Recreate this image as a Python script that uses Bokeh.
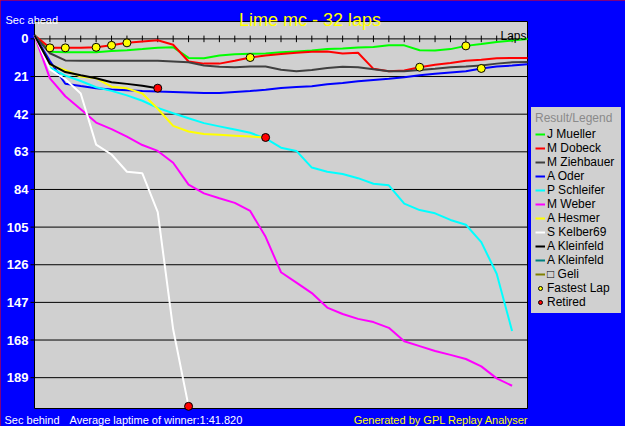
from bokeh.plotting import figure
from bokeh.models import Range1d, Label, Legend, LegendItem
from bokeh.core.properties import value
from bokeh.embed import file_html
from bokeh.resources import INLINE

# ---------------- data ----------------
TITLE = "Lime  mc - 32 laps"
laps = list(range(33))
y_ticks = [0, 21, 42, 63, 84, 105, 126, 147, 168, 189]
y_tick_labels = ["0", "21", "42", "63", "84", "105", "126", "147", "168", "189"]

names = ["J Mueller", "M Dobeck", "M Ziehbauer", "A Oder", "P Schleifer", "M Weber",
         "A Hesmer", "S Kelber69", "A Kleinfeld", "A Kleinfeld", "\u25a1 Geli"]
colors = ["#00FF00", "#FF0000", "#404040", "#0000FF", "#00FFFF", "#FF00FF",
          "#FFFF00", "#FFFFFF", "#000000", "#008080", "#808000"]

NA = float("nan")
mueller = [-2, 7.2, 7.5, 7.5, 7.4, 6.8, 6.3, 5.7, 5.0, 4.6, 10.6, 10.8, 9.3, 8.6, 8.3, 8.1,
           7.5, 7.0, 6.5, 5.7, 5.4, 4.8, 4.5, 3.6, 3.6, 6.3, 6.5, 5.7, 3.9, 2.9, 1.8, 0.9, 0.0]
dobeck = [-2, 5.0, 5.0, 4.9, 4.7, 3.6, 2.2, 1.4, 0.8, 3.3, 12.6, 13.8, 13.8, 12.2, 10.4, 9.3,
          8.4, 7.7, 7.2, 7.0, 8.1, 7.7, 16.7, 18.0, 17.6, 15.8, 14.4, 13.5, 12.2, 11.7, 10.8, 10.6, 10.6]
ziehbauer = [-2, 8, 12, 12.2, 12.2, 12.2, 12.2, 12.2, 12.2, 12.6, 13.0, 14.9, 15.6, 15.8, 15.4, 15.4,
             17.2, 18.0, 17.4, 16.2, 15.6, 15.8, 17.0, 18.0, 18.0, 17.4, 16.7, 15.8, 15.4, 14.9, 13.8, 13.1, 12.9]
oder = [-2, 12.4, 25.0, 26.3, 27.5, 28.3, 28.7, 29.1, 29.4, 29.6, 29.9, 30.2, 30.2, 29.6, 29.1, 28.4,
        27.4, 26.9, 26.4, 25.3, 24.6, 23.7, 23.0, 22.3, 21.4, 20.3, 19.4, 18.7, 18.0, 16.5, 15.4, 14.9, 14.2]
schleifer = [-2, 16, 20.5, 23.5, 27, 29, 31.5, 34.5, 38.5, 41.5, 44.3, 47, 48.8, 50.6, 52.4, 55.5,
             60.7, 62.5, 71.8, 74.1, 75.4, 77.7, 80.8, 81.7, 91.9, 95.5, 97.3, 101, 103.7, 113.4, 131, 163]
weber = [-2, 22, 32, 39.3, 46.7, 50.3, 54.5, 59.2, 62.5, 69.1, 81.3, 86.2, 88.9, 91.5, 96, 110.4,
         130.2, 136, 141.8, 149.9, 153.5, 156.2, 158, 161.2, 168.7, 171.4, 174.1, 176.3, 178.6, 182.7, 189.4, 193.5]
hesmer = [-2, 14.5, 17.5, 21, 22, 26.7, 27.6, 30.5, 39, 48.5, 51.7, 53, 53.5, 54, 54.5, 55]
kelber = [-2, 17, 22.5, 30.5, 59, 64.5, 74.1, 75, 96.6, 162, 205]
kleinfeld = [-2, 14, 18.5, 20.3, 22, 24.2, 25.1, 26.2, 27.5]
kleinfeld2 = [NA, NA]   # no visible trace
geli = [NA, NA]         # no visible trace

series = [mueller, dobeck, ziehbauer, oder, schleifer, weber, hesmer, kelber, kleinfeld, kleinfeld2, geli]

# (series index, laps with fastest lap)
fastest = [(1, [1, 2, 4, 5, 6, 14, 25]), (0, [28]), (3, [29])]
# series indices that retired (marker at last lap)
retired = [6, 7, 8]

# ---------------- layout (pixels inside the figure) ----------------
FONT = "Liberation Sans"
BG = "#0000FF"
PANEL = "#D0D0D0"
W, H = 625, 426
PL, PR, PT, PB = 34, 527, 21, 408          # plot-area edges
X0, X1 = 0, 32                              # lap domain
Y_TOP, Y_BOT = -9.7, 206.2                  # seconds at top / bottom of plot area
KX = (PR - PL) / (X1 - X0)
KY = (PB - PT) / (Y_BOT - Y_TOP)


def dx(px):
    return X0 + (px - PL) / KX


def dy(py):
    return Y_TOP + (py - PT) / KY


p = figure(width=W, height=H,
           x_range=Range1d(dx(0), dx(W)), y_range=Range1d(dy(H), dy(0)),
           output_backend="svg", toolbar_location=None,
           x_axis_location=None, y_axis_location=None,
           min_border=0, min_border_left=0, min_border_right=0, min_border_top=0, min_border_bottom=0,
           background_fill_color=BG, border_fill_color=BG, outline_line_color=None)
p.styles = {"outline": "2px solid #FF0000", "outline-offset": "-2px"}
p.xgrid.visible = False
p.ygrid.visible = False

# plot area
p.quad(left=[X0], right=[X1], top=[Y_TOP], bottom=[Y_BOT],
       fill_color=PANEL, line_color="black", line_width=1)

# horizontal grid lines (black), y ticks and tick labels
p.segment(x0=[X0] * len(y_ticks), x1=[X1] * len(y_ticks), y0=y_ticks, y1=y_ticks,
          line_color="black", line_width=1)
p.segment(x0=[dx(PL - 4)] * len(y_ticks), x1=[X0] * len(y_ticks), y0=y_ticks, y1=y_ticks,
          line_color="black", line_width=1)
p.text(x=[dx(28)] * len(y_ticks), y=y_ticks, text=y_tick_labels,
       text_align="right", text_baseline="middle", text_color="white",
       text_font=value(FONT), text_font_size="13px", text_font_style="bold")

# lap ticks along the zero line
tick_laps = laps[1:-1]
half = 3.3 / KY
p.segment(x0=tick_laps, y0=[-half] * len(tick_laps), x1=tick_laps, y1=[half] * len(tick_laps),
          line_color="black", line_width=1)

renderers = []
for vals, c in zip(series, colors):
    r = p.line(laps[:len(vals)], vals, line_color=c, line_width=2)
    renderers.append(r)

fx, fy = [], []
for idx, fl in fastest:
    for lap in fl:
        fx.append(lap)
        fy.append(series[idx][lap])
r_fast = p.scatter(fx, fy, marker="circle", size=8, fill_color="#FFFF00", line_color="black", line_width=1)

rx = [len(series[i]) - 1 for i in retired]
ry = [series[i][-1] for i in retired]
r_ret = p.scatter(rx, ry, marker="circle", size=8, fill_color="#FF0000", line_color="black", line_width=1)

items = [LegendItem(label=n, renderers=[r]) for n, r in zip(names, renderers)]
items.append(LegendItem(label="Fastest Lap", renderers=[r_fast]))
items.append(LegendItem(label="Retired", renderers=[r_ret]))

LEG_LEFT, LEG_BOTTOM = 528, 316
legend = Legend(items=items, title="Result/Legend", location=(LEG_LEFT, H - LEG_BOTTOM),
                background_fill_color=PANEL, background_fill_alpha=1,
                border_line_color=BG, border_line_width=3, border_line_alpha=1,
                padding=4, margin=0, spacing=0,
                glyph_width=10, glyph_height=14, label_height=14, label_width=70, label_standoff=2,
                label_text_font=FONT, label_text_font_size="12px", label_text_color="black",
                title_text_font=FONT, title_text_font_size="12px", title_text_color="#8a8a8a",
                title_text_font_style="normal", title_standoff=2)
p.add_layout(legend)


def add_label(text, px, py, color, size, align="left", style="normal"):
    p.add_layout(Label(x=dx(px), y=dy(py), text=text, text_align=align, text_baseline="alphabetic",
                       text_color=color, text_font=FONT, text_font_size=size, text_font_style=style))


add_label(TITLE, 312, 19, "#FFFF00", "18px", "center")
add_label("Sec ahead", 5, 19, "white", "11px")
add_label("Laps", PR - 1, 35, "black", "12px", "right")
add_label("Sec behind", 4, 419, "white", "11px")
add_label("Average laptime of winner:1:41.820", 69, 419, "white", "11px")
add_label("Generated by GPL Replay Analyser", 528, 419, "#FFFF00", "11px", "right")

open("out.html", "w").write(file_html(p, INLINE))
